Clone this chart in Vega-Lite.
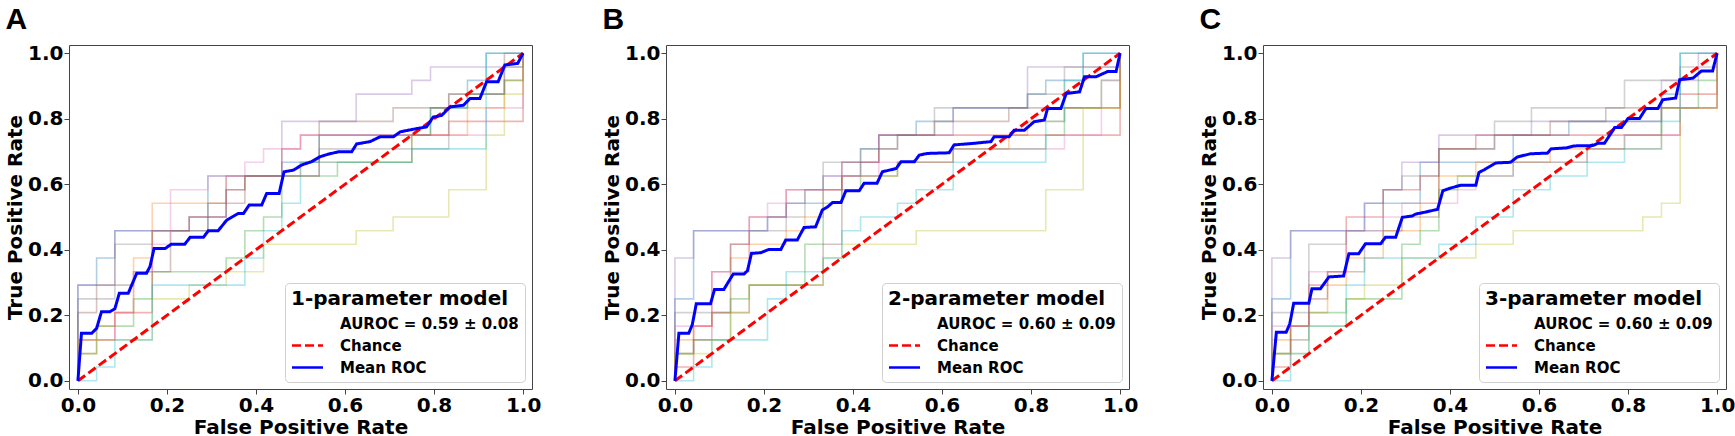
{
  "$schema": "https://vega.github.io/schema/vega-lite/v6.json",
  "background": "white",
  "padding": {"left": 5, "top": 4, "right": 2, "bottom": 0},
  "datasets": {
    "A": [
      {"s":"f1","x":0,"y":0},{"s":"f1","x":0,"y":0.292},{"s":"f1","x":0.042,"y":0.375},{"s":"f1","x":0.083,"y":0.458},{"s":"f1","x":0.292,"y":0.625},{"s":"f1","x":0.458,"y":0.667},{"s":"f1","x":0.542,"y":0.75},{"s":"f1","x":0.792,"y":0.833},{"s":"f1","x":0.875,"y":0.917},{"s":"f1","x":0.917,"y":1},{"s":"f1","x":1,"y":1},
      {"s":"f2","x":0,"y":0},{"s":"f2","x":0,"y":0.083},{"s":"f2","x":0.042,"y":0.167},{"s":"f2","x":0.083,"y":0.208},{"s":"f2","x":0.125,"y":0.375},{"s":"f2","x":0.167,"y":0.542},{"s":"f2","x":0.333,"y":0.625},{"s":"f2","x":0.5,"y":0.667},{"s":"f2","x":0.75,"y":0.75},{"s":"f2","x":0.875,"y":0.833},{"s":"f2","x":0.958,"y":0.917},{"s":"f2","x":1,"y":1},
      {"s":"f3","x":0,"y":0},{"s":"f3","x":0,"y":0.083},{"s":"f3","x":0.042,"y":0.167},{"s":"f3","x":0.125,"y":0.25},{"s":"f3","x":0.167,"y":0.333},{"s":"f3","x":0.333,"y":0.375},{"s":"f3","x":0.375,"y":0.458},{"s":"f3","x":0.417,"y":0.5},{"s":"f3","x":0.458,"y":0.625},{"s":"f3","x":0.583,"y":0.667},{"s":"f3","x":0.75,"y":0.75},{"s":"f3","x":0.792,"y":0.833},{"s":"f3","x":0.875,"y":0.875},{"s":"f3","x":0.958,"y":0.917},{"s":"f3","x":1,"y":1},
      {"s":"f4","x":0,"y":0},{"s":"f4","x":0,"y":0.125},{"s":"f4","x":0.083,"y":0.208},{"s":"f4","x":0.167,"y":0.458},{"s":"f4","x":0.25,"y":0.5},{"s":"f4","x":0.333,"y":0.583},{"s":"f4","x":0.375,"y":0.625},{"s":"f4","x":0.458,"y":0.708},{"s":"f4","x":0.5,"y":0.75},{"s":"f4","x":0.833,"y":0.792},{"s":"f4","x":1,"y":1},
      {"s":"f5","x":0,"y":0},{"s":"f5","x":0,"y":0.292},{"s":"f5","x":0.083,"y":0.458},{"s":"f5","x":0.25,"y":0.5},{"s":"f5","x":0.333,"y":0.625},{"s":"f5","x":0.458,"y":0.792},{"s":"f5","x":0.625,"y":0.875},{"s":"f5","x":0.75,"y":0.917},{"s":"f5","x":0.792,"y":0.958},{"s":"f5","x":1,"y":1},
      {"s":"f6","x":0,"y":0},{"s":"f6","x":0,"y":0.208},{"s":"f6","x":0.042,"y":0.292},{"s":"f6","x":0.125,"y":0.333},{"s":"f6","x":0.208,"y":0.458},{"s":"f6","x":0.292,"y":0.542},{"s":"f6","x":0.375,"y":0.625},{"s":"f6","x":0.542,"y":0.792},{"s":"f6","x":0.708,"y":0.833},{"s":"f6","x":0.833,"y":0.875},{"s":"f6","x":0.958,"y":1},{"s":"f6","x":1,"y":1},
      {"s":"f7","x":0,"y":0},{"s":"f7","x":0,"y":0.125},{"s":"f7","x":0.083,"y":0.208},{"s":"f7","x":0.125,"y":0.333},{"s":"f7","x":0.167,"y":0.417},{"s":"f7","x":0.208,"y":0.583},{"s":"f7","x":0.292,"y":0.625},{"s":"f7","x":0.375,"y":0.667},{"s":"f7","x":0.417,"y":0.708},{"s":"f7","x":0.5,"y":0.75},{"s":"f7","x":0.875,"y":0.75},{"s":"f7","x":0.917,"y":0.833},{"s":"f7","x":1,"y":1},
      {"s":"f8","x":0,"y":0},{"s":"f8","x":0,"y":0.25},{"s":"f8","x":0.083,"y":0.417},{"s":"f8","x":0.167,"y":0.458},{"s":"f8","x":0.25,"y":0.5},{"s":"f8","x":0.333,"y":0.583},{"s":"f8","x":0.375,"y":0.625},{"s":"f8","x":0.542,"y":0.708},{"s":"f8","x":0.625,"y":0.708},{"s":"f8","x":0.833,"y":0.875},{"s":"f8","x":0.958,"y":0.958},{"s":"f8","x":1,"y":1},
      {"s":"f9","x":0,"y":0},{"s":"f9","x":0,"y":0.125},{"s":"f9","x":0.167,"y":0.25},{"s":"f9","x":0.25,"y":0.292},{"s":"f9","x":0.333,"y":0.333},{"s":"f9","x":0.417,"y":0.417},{"s":"f9","x":0.625,"y":0.458},{"s":"f9","x":0.708,"y":0.5},{"s":"f9","x":0.833,"y":0.583},{"s":"f9","x":0.917,"y":0.75},{"s":"f9","x":0.958,"y":0.875},{"s":"f9","x":1,"y":1},
      {"s":"f10","x":0,"y":0},{"s":"f10","x":0.042,"y":0.042},{"s":"f10","x":0.083,"y":0.125},{"s":"f10","x":0.167,"y":0.292},{"s":"f10","x":0.375,"y":0.375},{"s":"f10","x":0.417,"y":0.458},{"s":"f10","x":0.458,"y":0.542},{"s":"f10","x":0.5,"y":0.667},{"s":"f10","x":0.75,"y":0.708},{"s":"f10","x":0.917,"y":1},{"s":"f10","x":1,"y":1},
      {"s":"Chance","x":0,"y":0},{"s":"Chance","x":1,"y":1},
      {"s":"Mean ROC","x":0,"y":0},{"s":"Mean ROC","x":0.008,"y":0.145},{"s":"Mean ROC","x":0.031,"y":0.145},{"s":"Mean ROC","x":0.042,"y":0.16},{"s":"Mean ROC","x":0.053,"y":0.211},{"s":"Mean ROC","x":0.072,"y":0.211},{"s":"Mean ROC","x":0.083,"y":0.22},{"s":"Mean ROC","x":0.093,"y":0.267},{"s":"Mean ROC","x":0.113,"y":0.267},{"s":"Mean ROC","x":0.132,"y":0.328},{"s":"Mean ROC","x":0.154,"y":0.328},{"s":"Mean ROC","x":0.162,"y":0.349},{"s":"Mean ROC","x":0.171,"y":0.404},{"s":"Mean ROC","x":0.196,"y":0.404},{"s":"Mean ROC","x":0.21,"y":0.417},{"s":"Mean ROC","x":0.24,"y":0.417},{"s":"Mean ROC","x":0.252,"y":0.438},{"s":"Mean ROC","x":0.282,"y":0.438},{"s":"Mean ROC","x":0.293,"y":0.458},{"s":"Mean ROC","x":0.315,"y":0.458},{"s":"Mean ROC","x":0.334,"y":0.49},{"s":"Mean ROC","x":0.345,"y":0.499},{"s":"Mean ROC","x":0.36,"y":0.511},{"s":"Mean ROC","x":0.372,"y":0.511},{"s":"Mean ROC","x":0.385,"y":0.537},{"s":"Mean ROC","x":0.413,"y":0.537},{"s":"Mean ROC","x":0.424,"y":0.572},{"s":"Mean ROC","x":0.452,"y":0.572},{"s":"Mean ROC","x":0.463,"y":0.638},{"s":"Mean ROC","x":0.484,"y":0.643},{"s":"Mean ROC","x":0.503,"y":0.659},{"s":"Mean ROC","x":0.525,"y":0.669},{"s":"Mean ROC","x":0.544,"y":0.684},{"s":"Mean ROC","x":0.563,"y":0.692},{"s":"Mean ROC","x":0.585,"y":0.699},{"s":"Mean ROC","x":0.615,"y":0.699},{"s":"Mean ROC","x":0.626,"y":0.723},{"s":"Mean ROC","x":0.656,"y":0.73},{"s":"Mean ROC","x":0.679,"y":0.745},{"s":"Mean ROC","x":0.709,"y":0.745},{"s":"Mean ROC","x":0.724,"y":0.76},{"s":"Mean ROC","x":0.75,"y":0.767},{"s":"Mean ROC","x":0.783,"y":0.775},{"s":"Mean ROC","x":0.798,"y":0.805},{"s":"Mean ROC","x":0.817,"y":0.81},{"s":"Mean ROC","x":0.836,"y":0.836},{"s":"Mean ROC","x":0.866,"y":0.841},{"s":"Mean ROC","x":0.881,"y":0.862},{"s":"Mean ROC","x":0.903,"y":0.862},{"s":"Mean ROC","x":0.918,"y":0.913},{"s":"Mean ROC","x":0.944,"y":0.913},{"s":"Mean ROC","x":0.959,"y":0.964},{"s":"Mean ROC","x":0.988,"y":0.969},{"s":"Mean ROC","x":1,"y":1}
    ],
    "B": [
      {"s":"f1","x":0,"y":0},{"s":"f1","x":0,"y":0.25},{"s":"f1","x":0.042,"y":0.458},{"s":"f1","x":0.208,"y":0.5},{"s":"f1","x":0.25,"y":0.542},{"s":"f1","x":0.333,"y":0.625},{"s":"f1","x":0.417,"y":0.708},{"s":"f1","x":0.458,"y":0.75},{"s":"f1","x":0.542,"y":0.792},{"s":"f1","x":0.625,"y":0.833},{"s":"f1","x":0.792,"y":0.875},{"s":"f1","x":0.833,"y":0.917},{"s":"f1","x":0.917,"y":1},{"s":"f1","x":1,"y":1},
      {"s":"f2","x":0,"y":0},{"s":"f2","x":0,"y":0.125},{"s":"f2","x":0.042,"y":0.167},{"s":"f2","x":0.083,"y":0.208},{"s":"f2","x":0.125,"y":0.375},{"s":"f2","x":0.167,"y":0.417},{"s":"f2","x":0.25,"y":0.458},{"s":"f2","x":0.292,"y":0.5},{"s":"f2","x":0.333,"y":0.583},{"s":"f2","x":0.375,"y":0.625},{"s":"f2","x":0.5,"y":0.667},{"s":"f2","x":0.625,"y":0.708},{"s":"f2","x":0.75,"y":0.75},{"s":"f2","x":0.792,"y":0.792},{"s":"f2","x":0.875,"y":0.833},{"s":"f2","x":1,"y":1},
      {"s":"f3","x":0,"y":0},{"s":"f3","x":0,"y":0.083},{"s":"f3","x":0.042,"y":0.125},{"s":"f3","x":0.125,"y":0.25},{"s":"f3","x":0.167,"y":0.292},{"s":"f3","x":0.292,"y":0.417},{"s":"f3","x":0.333,"y":0.542},{"s":"f3","x":0.375,"y":0.583},{"s":"f3","x":0.417,"y":0.625},{"s":"f3","x":0.5,"y":0.667},{"s":"f3","x":0.625,"y":0.708},{"s":"f3","x":0.833,"y":0.75},{"s":"f3","x":0.875,"y":0.833},{"s":"f3","x":0.958,"y":0.917},{"s":"f3","x":1,"y":1},
      {"s":"f4","x":0,"y":0},{"s":"f4","x":0,"y":0.042},{"s":"f4","x":0.042,"y":0.167},{"s":"f4","x":0.083,"y":0.333},{"s":"f4","x":0.125,"y":0.417},{"s":"f4","x":0.167,"y":0.5},{"s":"f4","x":0.25,"y":0.583},{"s":"f4","x":0.375,"y":0.667},{"s":"f4","x":0.458,"y":0.75},{"s":"f4","x":1,"y":1},
      {"s":"f5","x":0,"y":0},{"s":"f5","x":0,"y":0.375},{"s":"f5","x":0.042,"y":0.458},{"s":"f5","x":0.208,"y":0.5},{"s":"f5","x":0.25,"y":0.542},{"s":"f5","x":0.292,"y":0.583},{"s":"f5","x":0.375,"y":0.667},{"s":"f5","x":0.458,"y":0.75},{"s":"f5","x":0.625,"y":0.833},{"s":"f5","x":0.792,"y":0.958},{"s":"f5","x":1,"y":1},
      {"s":"f6","x":0,"y":0},{"s":"f6","x":0,"y":0.083},{"s":"f6","x":0.042,"y":0.125},{"s":"f6","x":0.083,"y":0.208},{"s":"f6","x":0.167,"y":0.292},{"s":"f6","x":0.333,"y":0.417},{"s":"f6","x":0.375,"y":0.625},{"s":"f6","x":0.417,"y":0.667},{"s":"f6","x":0.458,"y":0.708},{"s":"f6","x":0.5,"y":0.75},{"s":"f6","x":0.583,"y":0.792},{"s":"f6","x":0.75,"y":0.833},{"s":"f6","x":1,"y":1},
      {"s":"f7","x":0,"y":0},{"s":"f7","x":0,"y":0.167},{"s":"f7","x":0.083,"y":0.333},{"s":"f7","x":0.167,"y":0.5},{"s":"f7","x":0.208,"y":0.542},{"s":"f7","x":0.25,"y":0.583},{"s":"f7","x":0.333,"y":0.625},{"s":"f7","x":0.458,"y":0.667},{"s":"f7","x":0.625,"y":0.708},{"s":"f7","x":0.875,"y":0.75},{"s":"f7","x":0.958,"y":0.917},{"s":"f7","x":1,"y":1},
      {"s":"f8","x":0,"y":0},{"s":"f8","x":0,"y":0.208},{"s":"f8","x":0.125,"y":0.417},{"s":"f8","x":0.167,"y":0.458},{"s":"f8","x":0.25,"y":0.5},{"s":"f8","x":0.292,"y":0.583},{"s":"f8","x":0.333,"y":0.667},{"s":"f8","x":0.417,"y":0.708},{"s":"f8","x":0.5,"y":0.75},{"s":"f8","x":0.583,"y":0.833},{"s":"f8","x":0.792,"y":0.875},{"s":"f8","x":0.875,"y":0.958},{"s":"f8","x":1,"y":1},
      {"s":"f9","x":0,"y":0},{"s":"f9","x":0,"y":0.083},{"s":"f9","x":0.083,"y":0.125},{"s":"f9","x":0.125,"y":0.208},{"s":"f9","x":0.167,"y":0.292},{"s":"f9","x":0.333,"y":0.375},{"s":"f9","x":0.375,"y":0.417},{"s":"f9","x":0.542,"y":0.458},{"s":"f9","x":0.833,"y":0.583},{"s":"f9","x":0.917,"y":0.833},{"s":"f9","x":1,"y":1},
      {"s":"f10","x":0,"y":0},{"s":"f10","x":0.042,"y":0.042},{"s":"f10","x":0.083,"y":0.125},{"s":"f10","x":0.208,"y":0.25},{"s":"f10","x":0.25,"y":0.333},{"s":"f10","x":0.333,"y":0.375},{"s":"f10","x":0.375,"y":0.458},{"s":"f10","x":0.417,"y":0.5},{"s":"f10","x":0.5,"y":0.542},{"s":"f10","x":0.542,"y":0.583},{"s":"f10","x":0.625,"y":0.667},{"s":"f10","x":0.833,"y":0.792},{"s":"f10","x":0.875,"y":0.917},{"s":"f10","x":0.917,"y":1},{"s":"f10","x":1,"y":1},
      {"s":"Chance","x":0,"y":0},{"s":"Chance","x":1,"y":1},
      {"s":"Mean ROC","x":0,"y":0},{"s":"Mean ROC","x":0.009,"y":0.145},{"s":"Mean ROC","x":0.031,"y":0.145},{"s":"Mean ROC","x":0.039,"y":0.171},{"s":"Mean ROC","x":0.048,"y":0.235},{"s":"Mean ROC","x":0.08,"y":0.235},{"s":"Mean ROC","x":0.089,"y":0.279},{"s":"Mean ROC","x":0.11,"y":0.279},{"s":"Mean ROC","x":0.131,"y":0.326},{"s":"Mean ROC","x":0.155,"y":0.326},{"s":"Mean ROC","x":0.163,"y":0.336},{"s":"Mean ROC","x":0.172,"y":0.389},{"s":"Mean ROC","x":0.193,"y":0.391},{"s":"Mean ROC","x":0.211,"y":0.401},{"s":"Mean ROC","x":0.238,"y":0.401},{"s":"Mean ROC","x":0.249,"y":0.43},{"s":"Mean ROC","x":0.275,"y":0.43},{"s":"Mean ROC","x":0.29,"y":0.468},{"s":"Mean ROC","x":0.316,"y":0.47},{"s":"Mean ROC","x":0.331,"y":0.521},{"s":"Mean ROC","x":0.343,"y":0.531},{"s":"Mean ROC","x":0.354,"y":0.544},{"s":"Mean ROC","x":0.373,"y":0.544},{"s":"Mean ROC","x":0.384,"y":0.58},{"s":"Mean ROC","x":0.414,"y":0.58},{"s":"Mean ROC","x":0.425,"y":0.603},{"s":"Mean ROC","x":0.454,"y":0.603},{"s":"Mean ROC","x":0.466,"y":0.638},{"s":"Mean ROC","x":0.497,"y":0.648},{"s":"Mean ROC","x":0.508,"y":0.669},{"s":"Mean ROC","x":0.538,"y":0.669},{"s":"Mean ROC","x":0.549,"y":0.689},{"s":"Mean ROC","x":0.567,"y":0.694},{"s":"Mean ROC","x":0.616,"y":0.696},{"s":"Mean ROC","x":0.627,"y":0.72},{"s":"Mean ROC","x":0.672,"y":0.725},{"s":"Mean ROC","x":0.71,"y":0.73},{"s":"Mean ROC","x":0.717,"y":0.745},{"s":"Mean ROC","x":0.751,"y":0.745},{"s":"Mean ROC","x":0.762,"y":0.765},{"s":"Mean ROC","x":0.785,"y":0.765},{"s":"Mean ROC","x":0.807,"y":0.791},{"s":"Mean ROC","x":0.83,"y":0.796},{"s":"Mean ROC","x":0.837,"y":0.831},{"s":"Mean ROC","x":0.867,"y":0.831},{"s":"Mean ROC","x":0.879,"y":0.877},{"s":"Mean ROC","x":0.909,"y":0.882},{"s":"Mean ROC","x":0.92,"y":0.928},{"s":"Mean ROC","x":0.946,"y":0.928},{"s":"Mean ROC","x":0.972,"y":0.944},{"s":"Mean ROC","x":0.991,"y":0.944},{"s":"Mean ROC","x":1,"y":1}
    ],
    "C": [
      {"s":"f1","x":0,"y":0},{"s":"f1","x":0,"y":0.25},{"s":"f1","x":0.042,"y":0.458},{"s":"f1","x":0.208,"y":0.542},{"s":"f1","x":0.333,"y":0.667},{"s":"f1","x":0.542,"y":0.75},{"s":"f1","x":0.667,"y":0.792},{"s":"f1","x":0.875,"y":0.875},{"s":"f1","x":0.917,"y":1},{"s":"f1","x":1,"y":1},
      {"s":"f2","x":0,"y":0},{"s":"f2","x":0,"y":0.125},{"s":"f2","x":0.042,"y":0.167},{"s":"f2","x":0.083,"y":0.208},{"s":"f2","x":0.125,"y":0.292},{"s":"f2","x":0.167,"y":0.375},{"s":"f2","x":0.25,"y":0.458},{"s":"f2","x":0.333,"y":0.542},{"s":"f2","x":0.375,"y":0.625},{"s":"f2","x":0.458,"y":0.667},{"s":"f2","x":0.625,"y":0.708},{"s":"f2","x":0.875,"y":0.833},{"s":"f2","x":1,"y":1},
      {"s":"f3","x":0,"y":0},{"s":"f3","x":0,"y":0.083},{"s":"f3","x":0.042,"y":0.167},{"s":"f3","x":0.083,"y":0.208},{"s":"f3","x":0.167,"y":0.25},{"s":"f3","x":0.292,"y":0.417},{"s":"f3","x":0.333,"y":0.458},{"s":"f3","x":0.375,"y":0.583},{"s":"f3","x":0.417,"y":0.625},{"s":"f3","x":0.542,"y":0.667},{"s":"f3","x":0.708,"y":0.708},{"s":"f3","x":0.792,"y":0.75},{"s":"f3","x":0.875,"y":0.833},{"s":"f3","x":0.958,"y":0.917},{"s":"f3","x":1,"y":1},
      {"s":"f4","x":0,"y":0},{"s":"f4","x":0,"y":0.042},{"s":"f4","x":0.042,"y":0.167},{"s":"f4","x":0.083,"y":0.292},{"s":"f4","x":0.125,"y":0.333},{"s":"f4","x":0.167,"y":0.5},{"s":"f4","x":0.25,"y":0.583},{"s":"f4","x":0.333,"y":0.625},{"s":"f4","x":0.375,"y":0.708},{"s":"f4","x":0.458,"y":0.75},{"s":"f4","x":0.917,"y":0.875},{"s":"f4","x":1,"y":1},
      {"s":"f5","x":0,"y":0},{"s":"f5","x":0,"y":0.375},{"s":"f5","x":0.042,"y":0.458},{"s":"f5","x":0.208,"y":0.542},{"s":"f5","x":0.25,"y":0.583},{"s":"f5","x":0.292,"y":0.667},{"s":"f5","x":0.375,"y":0.75},{"s":"f5","x":0.583,"y":0.792},{"s":"f5","x":0.875,"y":0.917},{"s":"f5","x":0.958,"y":1},{"s":"f5","x":1,"y":1},
      {"s":"f6","x":0,"y":0},{"s":"f6","x":0,"y":0.083},{"s":"f6","x":0.042,"y":0.125},{"s":"f6","x":0.083,"y":0.25},{"s":"f6","x":0.125,"y":0.333},{"s":"f6","x":0.208,"y":0.417},{"s":"f6","x":0.25,"y":0.458},{"s":"f6","x":0.292,"y":0.5},{"s":"f6","x":0.375,"y":0.708},{"s":"f6","x":0.5,"y":0.75},{"s":"f6","x":0.625,"y":0.792},{"s":"f6","x":0.75,"y":0.833},{"s":"f6","x":1,"y":1},
      {"s":"f7","x":0,"y":0},{"s":"f7","x":0,"y":0.167},{"s":"f7","x":0.083,"y":0.333},{"s":"f7","x":0.167,"y":0.458},{"s":"f7","x":0.25,"y":0.5},{"s":"f7","x":0.292,"y":0.542},{"s":"f7","x":0.417,"y":0.583},{"s":"f7","x":0.458,"y":0.625},{"s":"f7","x":0.542,"y":0.667},{"s":"f7","x":0.708,"y":0.708},{"s":"f7","x":0.792,"y":0.75},{"s":"f7","x":0.917,"y":0.833},{"s":"f7","x":1,"y":1},
      {"s":"f8","x":0,"y":0},{"s":"f8","x":0,"y":0.208},{"s":"f8","x":0.083,"y":0.417},{"s":"f8","x":0.167,"y":0.458},{"s":"f8","x":0.25,"y":0.583},{"s":"f8","x":0.292,"y":0.625},{"s":"f8","x":0.375,"y":0.708},{"s":"f8","x":0.5,"y":0.792},{"s":"f8","x":0.583,"y":0.833},{"s":"f8","x":0.792,"y":0.917},{"s":"f8","x":0.917,"y":0.958},{"s":"f8","x":1,"y":1},
      {"s":"f9","x":0,"y":0},{"s":"f9","x":0,"y":0.083},{"s":"f9","x":0.083,"y":0.167},{"s":"f9","x":0.167,"y":0.25},{"s":"f9","x":0.208,"y":0.292},{"s":"f9","x":0.292,"y":0.375},{"s":"f9","x":0.458,"y":0.417},{"s":"f9","x":0.542,"y":0.458},{"s":"f9","x":0.833,"y":0.5},{"s":"f9","x":0.875,"y":0.542},{"s":"f9","x":0.917,"y":0.833},{"s":"f9","x":1,"y":1},
      {"s":"f10","x":0,"y":0},{"s":"f10","x":0.042,"y":0.083},{"s":"f10","x":0.083,"y":0.167},{"s":"f10","x":0.167,"y":0.292},{"s":"f10","x":0.208,"y":0.375},{"s":"f10","x":0.375,"y":0.417},{"s":"f10","x":0.458,"y":0.5},{"s":"f10","x":0.542,"y":0.583},{"s":"f10","x":0.625,"y":0.625},{"s":"f10","x":0.708,"y":0.667},{"s":"f10","x":0.792,"y":0.708},{"s":"f10","x":0.875,"y":0.792},{"s":"f10","x":0.917,"y":1},{"s":"f10","x":1,"y":1},
      {"s":"Chance","x":0,"y":0},{"s":"Chance","x":1,"y":1},
      {"s":"Mean ROC","x":0,"y":0},{"s":"Mean ROC","x":0.01,"y":0.148},{"s":"Mean ROC","x":0.032,"y":0.148},{"s":"Mean ROC","x":0.04,"y":0.173},{"s":"Mean ROC","x":0.049,"y":0.237},{"s":"Mean ROC","x":0.083,"y":0.237},{"s":"Mean ROC","x":0.09,"y":0.281},{"s":"Mean ROC","x":0.109,"y":0.281},{"s":"Mean ROC","x":0.128,"y":0.317},{"s":"Mean ROC","x":0.161,"y":0.32},{"s":"Mean ROC","x":0.173,"y":0.388},{"s":"Mean ROC","x":0.195,"y":0.388},{"s":"Mean ROC","x":0.21,"y":0.418},{"s":"Mean ROC","x":0.244,"y":0.418},{"s":"Mean ROC","x":0.255,"y":0.438},{"s":"Mean ROC","x":0.278,"y":0.438},{"s":"Mean ROC","x":0.293,"y":0.499},{"s":"Mean ROC","x":0.315,"y":0.503},{"s":"Mean ROC","x":0.323,"y":0.509},{"s":"Mean ROC","x":0.345,"y":0.515},{"s":"Mean ROC","x":0.364,"y":0.521},{"s":"Mean ROC","x":0.372,"y":0.523},{"s":"Mean ROC","x":0.384,"y":0.58},{"s":"Mean ROC","x":0.398,"y":0.587},{"s":"Mean ROC","x":0.424,"y":0.597},{"s":"Mean ROC","x":0.458,"y":0.597},{"s":"Mean ROC","x":0.465,"y":0.636},{"s":"Mean ROC","x":0.478,"y":0.645},{"s":"Mean ROC","x":0.503,"y":0.665},{"s":"Mean ROC","x":0.536,"y":0.667},{"s":"Mean ROC","x":0.551,"y":0.683},{"s":"Mean ROC","x":0.581,"y":0.693},{"s":"Mean ROC","x":0.619,"y":0.695},{"s":"Mean ROC","x":0.627,"y":0.708},{"s":"Mean ROC","x":0.661,"y":0.711},{"s":"Mean ROC","x":0.679,"y":0.717},{"s":"Mean ROC","x":0.721,"y":0.718},{"s":"Mean ROC","x":0.732,"y":0.725},{"s":"Mean ROC","x":0.747,"y":0.725},{"s":"Mean ROC","x":0.77,"y":0.773},{"s":"Mean ROC","x":0.785,"y":0.773},{"s":"Mean ROC","x":0.8,"y":0.801},{"s":"Mean ROC","x":0.826,"y":0.801},{"s":"Mean ROC","x":0.84,"y":0.831},{"s":"Mean ROC","x":0.867,"y":0.831},{"s":"Mean ROC","x":0.878,"y":0.858},{"s":"Mean ROC","x":0.907,"y":0.863},{"s":"Mean ROC","x":0.916,"y":0.919},{"s":"Mean ROC","x":0.946,"y":0.924},{"s":"Mean ROC","x":0.965,"y":0.946},{"s":"Mean ROC","x":0.99,"y":0.946},{"s":"Mean ROC","x":1,"y":1}
    ]
  },
  "spacing": 134,
  "bounds": "flush",
  "hconcat": [
    {
      "title": "A",
      "width": 463,
      "height": 344,
      "data": {"name": "A"},
      "layer": [
        {
          "transform": [{"filter": "datum.s != 'Chance' && datum.s != 'Mean ROC'"}],
          "mark": {"type": "line", "interpolate": "step-after", "strokeWidth": 1.6, "opacity": 0.35},
          "encoding": {
            "x": {"field": "x", "type": "quantitative", "scale": {"domain": [-0.02, 1.02], "nice": false, "zero": false}, "axis": {"values": [0, 0.2, 0.4, 0.6, 0.8, 1], "format": ".1f", "title": "False Positive Rate"}},
            "y": {"field": "y", "type": "quantitative", "scale": {"domain": [-0.025, 1.025], "nice": false, "zero": false}, "axis": {"values": [0, 0.2, 0.4, 0.6, 0.8, 1], "format": ".1f", "title": "True Positive Rate"}},
            "stroke": {"field": "s", "type": "nominal", "legend": null, "scale": {"domain": ["f1","f2","f3","f4","f5","f6","f7","f8","f9","f10"], "range": ["#1f77b4","#ff7f0e","#2ca02c","#d62728","#9467bd","#8c564b","#e377c2","#7f7f7f","#bcbd22","#17becf"]}},
            "order": {"value": null}
          }
        },
        {
          "transform": [{"filter": "datum.s == 'Chance' || datum.s == 'Mean ROC'"}],
          "mark": {"type": "line", "strokeWidth": 3},
          "encoding": {
            "x": {"field": "x", "type": "quantitative"},
            "y": {"field": "y", "type": "quantitative"},
            "color": {"field": "s", "type": "nominal", "title": "1-parameter model", "scale": {"domain": ["AUROC = 0.59 ± 0.08", "Chance", "Mean ROC"], "range": ["rgba(0,0,0,0)", "#ff0000", "#0000ff"]}},
            "strokeDash": {"field": "s", "type": "nominal", "title": "1-parameter model", "scale": {"domain": ["AUROC = 0.59 ± 0.08", "Chance", "Mean ROC"], "range": [[1, 0], [9, 4], [1, 0]]}},
            "order": {"value": null}
          }
        }
      ]
    },
    {
      "title": "B",
      "width": 463,
      "height": 344,
      "data": {"name": "B"},
      "layer": [
        {
          "transform": [{"filter": "datum.s != 'Chance' && datum.s != 'Mean ROC'"}],
          "mark": {"type": "line", "interpolate": "step-after", "strokeWidth": 1.6, "opacity": 0.35},
          "encoding": {
            "x": {"field": "x", "type": "quantitative", "scale": {"domain": [-0.02, 1.02], "nice": false, "zero": false}, "axis": {"values": [0, 0.2, 0.4, 0.6, 0.8, 1], "format": ".1f", "title": "False Positive Rate"}},
            "y": {"field": "y", "type": "quantitative", "scale": {"domain": [-0.025, 1.025], "nice": false, "zero": false}, "axis": {"values": [0, 0.2, 0.4, 0.6, 0.8, 1], "format": ".1f", "title": "True Positive Rate"}},
            "stroke": {"field": "s", "type": "nominal", "legend": null, "scale": {"domain": ["f1","f2","f3","f4","f5","f6","f7","f8","f9","f10"], "range": ["#1f77b4","#ff7f0e","#2ca02c","#d62728","#9467bd","#8c564b","#e377c2","#7f7f7f","#bcbd22","#17becf"]}},
            "order": {"value": null}
          }
        },
        {
          "transform": [{"filter": "datum.s == 'Chance' || datum.s == 'Mean ROC'"}],
          "mark": {"type": "line", "strokeWidth": 3},
          "encoding": {
            "x": {"field": "x", "type": "quantitative"},
            "y": {"field": "y", "type": "quantitative"},
            "color": {"field": "s", "type": "nominal", "title": "2-parameter model", "scale": {"domain": ["AUROC = 0.60 ± 0.09", "Chance", "Mean ROC"], "range": ["rgba(0,0,0,0)", "#ff0000", "#0000ff"]}},
            "strokeDash": {"field": "s", "type": "nominal", "title": "2-parameter model", "scale": {"domain": ["AUROC = 0.60 ± 0.09", "Chance", "Mean ROC"], "range": [[1, 0], [9, 4], [1, 0]]}},
            "order": {"value": null}
          }
        }
      ]
    },
    {
      "title": "C",
      "width": 463,
      "height": 344,
      "data": {"name": "C"},
      "layer": [
        {
          "transform": [{"filter": "datum.s != 'Chance' && datum.s != 'Mean ROC'"}],
          "mark": {"type": "line", "interpolate": "step-after", "strokeWidth": 1.6, "opacity": 0.35},
          "encoding": {
            "x": {"field": "x", "type": "quantitative", "scale": {"domain": [-0.02, 1.02], "nice": false, "zero": false}, "axis": {"values": [0, 0.2, 0.4, 0.6, 0.8, 1], "format": ".1f", "title": "False Positive Rate"}},
            "y": {"field": "y", "type": "quantitative", "scale": {"domain": [-0.025, 1.025], "nice": false, "zero": false}, "axis": {"values": [0, 0.2, 0.4, 0.6, 0.8, 1], "format": ".1f", "title": "True Positive Rate"}},
            "stroke": {"field": "s", "type": "nominal", "legend": null, "scale": {"domain": ["f1","f2","f3","f4","f5","f6","f7","f8","f9","f10"], "range": ["#1f77b4","#ff7f0e","#2ca02c","#d62728","#9467bd","#8c564b","#e377c2","#7f7f7f","#bcbd22","#17becf"]}},
            "order": {"value": null}
          }
        },
        {
          "transform": [{"filter": "datum.s == 'Chance' || datum.s == 'Mean ROC'"}],
          "mark": {"type": "line", "strokeWidth": 3},
          "encoding": {
            "x": {"field": "x", "type": "quantitative"},
            "y": {"field": "y", "type": "quantitative"},
            "color": {"field": "s", "type": "nominal", "title": "3-parameter model", "scale": {"domain": ["AUROC = 0.60 ± 0.09", "Chance", "Mean ROC"], "range": ["rgba(0,0,0,0)", "#ff0000", "#0000ff"]}},
            "strokeDash": {"field": "s", "type": "nominal", "title": "3-parameter model", "scale": {"domain": ["AUROC = 0.60 ± 0.09", "Chance", "Mean ROC"], "range": [[1, 0], [9, 4], [1, 0]]}},
            "order": {"value": null}
          }
        }
      ]
    }
  ],
  "resolve": {
    "scale": {"color": "independent", "strokeDash": "independent", "x": "independent", "y": "independent"},
    "legend": {"color": "independent", "strokeDash": "independent"}
  },
  "config": {
    "view": {"stroke": "#444444", "strokeWidth": 1},
    "axis": {
      "grid": false, "domain": false,
      "labelFont": "DejaVu Sans", "labelFontWeight": "bold", "labelFontSize": 20, "labelColor": "#000000", "labelFlush": false,
      "titleFont": "DejaVu Sans", "titleFontWeight": "bold", "titleFontSize": 20, "titleColor": "#000000",
      "tickColor": "#444444", "tickSize": 5, "tickWidth": 1
    },
    "axisX": {"labelPadding": 1, "titlePadding": 2},
    "axisY": {"labelPadding": 1, "titlePadding": 2},
    "legend": {
      "orient": "bottom-right", "offset": 7, "padding": 6,
      "strokeColor": "#d0d0d0", "fillColor": "rgba(255,255,255,0.8)", "cornerRadius": 4,
      "titleFont": "DejaVu Sans", "titleFontSize": 20, "titleFontWeight": "bold", "titleColor": "#000000", "titleLimit": 320, "titlePadding": 3,
      "labelFont": "DejaVu Sans", "labelFontSize": 15, "labelFontWeight": "bold", "labelColor": "#000000", "labelLimit": 320, "labelOffset": 21,
      "symbolType": "M-1.55,0H1.55", "symbolSize": 400, "symbolOffset": 5, "symbolStrokeWidth": 2.5, "rowPadding": 2
    },
    "title": {"font": "Liberation Sans", "fontSize": 30, "fontWeight": "bold", "color": "#000000", "anchor": "start", "frame": "bounds", "offset": 8}
  }
}
